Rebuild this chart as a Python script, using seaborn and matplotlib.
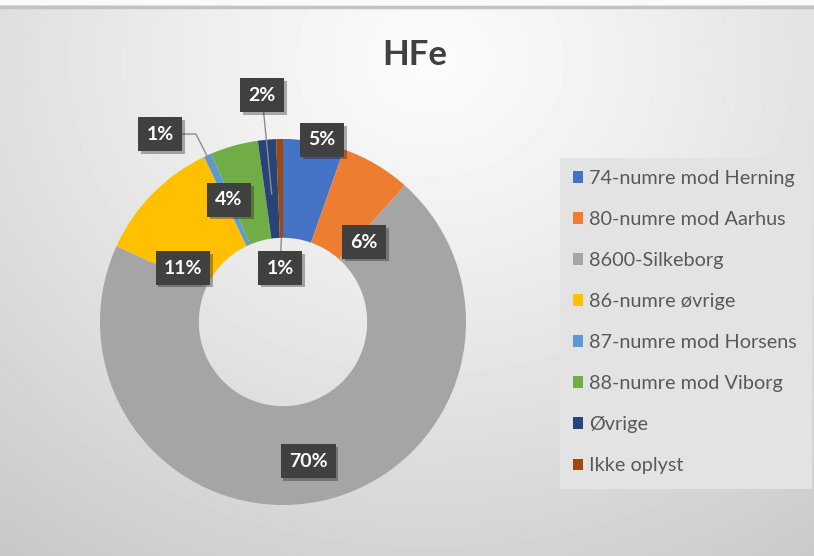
import numpy as np
import matplotlib
matplotlib.use('Agg')
import matplotlib.pyplot as plt
import matplotlib.patheffects as pe
from matplotlib.patches import Patch, Rectangle
from matplotlib.lines import Line2D
import seaborn as sns

# data
categories = ['74-numre mod Herning', '80-numre mod Aarhus', '8600-Silkeborg',
              '86-numre øvrige', '87-numre mod Horsens', '88-numre mod Viborg',
              'Øvrige', 'Ikke oplyst']
shares = [5.4, 6.2, 70.2, 11.1, 0.7, 4.2, 1.6, 0.6]
pct_labels = ['5%', '6%', '70%', '11%', '1%', '4%', '2%', '1%']
colors = ['#4472C4', '#ED7D31', '#A5A5A5', '#FFC000',
          '#5B9BD5', '#70AD47', '#264478', '#9E480E']

# label placement (pie radius units) and leader lines: index -> (radius, connection)
label_pos = [(0.213, 0.995), (0.443, 0.437), (0.137, -0.760), (-0.546, 0.295),
             (-0.672, 1.027), (-0.295, 0.667), (-0.115, 1.240), (-0.016, 0.295)]
leaders = {4: (0.9, 'angle,angleA=0,angleB=117,rad=0'),
           6: (0.7, 'arc3'),
           7: (0.46, 'arc3')}

W, H = 814, 556
sns.set_theme(style='white')
plt.rcParams['font.family'] = ['Lato', 'DejaVu Sans']

fig = plt.figure(figsize=(W / 100, H / 100), dpi=100)

# light radial background like the Excel chart area
bg = fig.add_axes([0, 0, 1, 1])
yy, xx = np.mgrid[0:H, 0:W]
d = np.sqrt(((xx - 430) / 600.0) ** 2 + ((yy - 60) / 520.0) ** 2)
arr = np.clip(251 - 42 * d ** 1.2, 0, 255)
arr[:5, :] = 250
bg.imshow(arr, cmap='gray', vmin=0, vmax=255, aspect='auto', interpolation='bilinear')
bg.axis('off')
fig.add_artist(Line2D([0, 1], [1 - 6.5 / H] * 2, transform=fig.transFigure,
                      color='#c2c2c2', lw=2.5))

# legend background panel
fig.add_artist(Rectangle((560 / W, 1 - 489 / H), 252 / W, 331 / H,
                         transform=fig.transFigure, fc='#e3e3e3', ec='none'))

# donut
cx, cy, r = 283, 322, 183
half = 200
ax = fig.add_axes([(cx - half) / W, (H - cy - half) / H, 2 * half / W, 2 * half / H])
ax.pie(shares, colors=sns.color_palette(colors), startangle=90, counterclock=False,
       radius=1, wedgeprops=dict(width=0.54, linewidth=0))
lim = half / r
ax.set_xlim(-lim, lim)
ax.set_ylim(-lim, lim)
ax.axis('off')

cum = np.cumsum(shares) - np.array(shares) / 2
mid = np.deg2rad(90 - 360 * cum / sum(shares))

shadow = [pe.SimplePatchShadow(offset=(2, -2), shadow_rgbFace='k', alpha=0.35), pe.Normal()]
box = dict(boxstyle='square,pad=0.42', fc='#404040', ec='none')
for i, txt in enumerate(pct_labels):
    if i in leaders:
        rad, conn = leaders[i]
        pt = (rad * np.cos(mid[i]), rad * np.sin(mid[i]))
        t = ax.annotate(txt, xy=pt, xytext=label_pos[i], ha='center', va='center',
                        fontsize=14, fontweight='bold', color='white', bbox=box,
                        arrowprops=dict(arrowstyle='-', color='#8c8c8c', lw=1,
                                        connectionstyle=conn, shrinkA=0, shrinkB=0))
    else:
        t = ax.text(*label_pos[i], txt, ha='center', va='center', fontsize=14,
                    fontweight='bold', color='white', bbox=box)
    t.get_bbox_patch().set_path_effects(shadow)

fig.text(415 / W, 1 - 55 / H, 'HFe', ha='center', va='center', fontsize=25,
         fontweight='bold', color='#404040')

handles = [Patch(facecolor=c, edgecolor='none') for c in colors]
fig.legend(handles, categories, loc='upper left', bbox_to_anchor=(573 / W, 1 - 170 / H),
           frameon=False, fontsize=14.3, labelcolor='#595959', handlelength=0.5,
           handleheight=0.5, handletextpad=0.3, labelspacing=1.21, borderpad=0,
           borderaxespad=0)

fig.savefig('out.png', dpi=100)
